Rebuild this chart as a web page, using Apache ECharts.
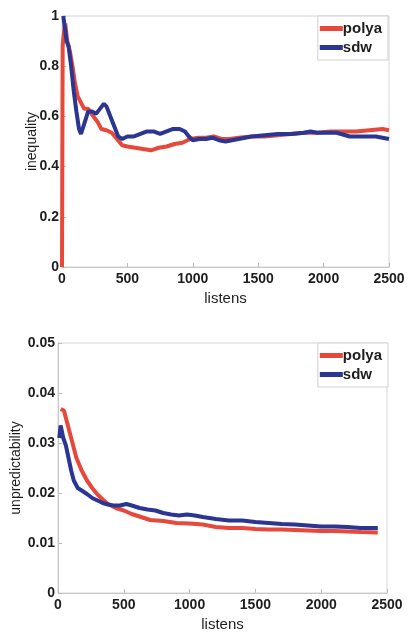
<!DOCTYPE html>
<html>
<head>
<meta charset="utf-8">
<script src="https://cdn.jsdelivr.net/npm/echarts@6/dist/echarts.min.js"></script>
<style>
  html, body { margin: 0; padding: 0; background: #fff; }
  #chart { width: 409px; height: 635px; }
</style>
</head>
<body>
<div id="chart"></div>
<script>
// Upper panel: inequality vs listens
const ineqPolyaX = [0, 5, 12, 25, 40, 60, 80, 100, 120, 140, 170, 200, 240, 270, 300, 340, 380, 420, 460, 500, 560, 620, 680, 740, 800, 860, 920, 980, 1040, 1100, 1160, 1220, 1280, 1350, 1450, 1550, 1650, 1750, 1850, 1950, 2050, 2150, 2250, 2350, 2450, 2500];
const ineqPolyaY = [0, 0.88, 0.92, 0.97, 0.9, 0.86, 0.8, 0.73, 0.68, 0.66, 0.63, 0.63, 0.6, 0.58, 0.55, 0.545, 0.535, 0.51, 0.485, 0.48, 0.475, 0.47, 0.465, 0.475, 0.48, 0.49, 0.495, 0.51, 0.515, 0.515, 0.52, 0.51, 0.51, 0.515, 0.52, 0.52, 0.525, 0.53, 0.535, 0.535, 0.54, 0.54, 0.54, 0.545, 0.55, 0.545];
const ineqSdwX = [10, 20, 35, 50, 70, 90, 110, 130, 145, 170, 200, 230, 260, 290, 320, 340, 370, 400, 430, 460, 500, 550, 600, 650, 700, 750, 800, 850, 900, 940, 970, 1000, 1050, 1100, 1150, 1200, 1250, 1300, 1350, 1450, 1550, 1650, 1750, 1850, 1900, 1950, 2000, 2050, 2100, 2200, 2300, 2400, 2500];
const ineqSdwY = [1.0, 0.96, 0.9, 0.88, 0.8, 0.7, 0.62, 0.55, 0.53, 0.57, 0.62, 0.62, 0.61, 0.63, 0.65, 0.64, 0.6, 0.56, 0.52, 0.51, 0.52, 0.52, 0.53, 0.54, 0.54, 0.53, 0.54, 0.55, 0.55, 0.54, 0.52, 0.505, 0.51, 0.51, 0.515, 0.505, 0.5, 0.505, 0.51, 0.52, 0.525, 0.53, 0.53, 0.535, 0.54, 0.535, 0.535, 0.535, 0.535, 0.52, 0.52, 0.52, 0.51];

// Lower panel: unpredictability vs listens
const unpPolyaX = [20, 45, 70, 100, 140, 180, 220, 260, 300, 340, 380, 440, 500, 560, 620, 700, 800, 900, 1000, 1100, 1200, 1300, 1400, 1500, 1600, 1700, 1800, 1900, 2000, 2100, 2200, 2300, 2430];
const unpPolyaY = [0.0368, 0.0365, 0.034, 0.031, 0.027, 0.0245, 0.0225, 0.021, 0.0197, 0.0187, 0.0178, 0.017, 0.0165, 0.0158, 0.0153, 0.0146, 0.0144, 0.014, 0.0139, 0.0137, 0.0132, 0.013, 0.013, 0.0128, 0.0127, 0.0127, 0.0126, 0.0125, 0.0124, 0.0124, 0.0123, 0.0122, 0.0121];
const unpSdwX = [10, 20, 40, 60, 80, 100, 120, 150, 180, 220, 260, 300, 340, 380, 420, 470, 520, 560, 620, 680, 740, 800, 860, 920, 980, 1040, 1100, 1200, 1300, 1400, 1500, 1600, 1700, 1800, 1900, 2000, 2100, 2200, 2300, 2430];
const unpSdwY = [0.031, 0.0335, 0.031, 0.0295, 0.027, 0.0245, 0.0225, 0.021, 0.0205, 0.0198, 0.019, 0.0185, 0.018, 0.0177, 0.0175, 0.0175, 0.0178, 0.0175, 0.017, 0.0167, 0.0165, 0.016, 0.0157, 0.0155, 0.0157, 0.0155, 0.0152, 0.0148, 0.0145, 0.0145, 0.0142, 0.014, 0.0138, 0.0137, 0.0135, 0.0133, 0.0133, 0.0132, 0.013, 0.013];

// Tick labels
const xTicks = ['0', '500', '1000', '1500', '2000', '2500'];
const ineqTicks = ['0', '0.2', '0.4', '0.6', '0.8', '1'];
const unpTicks = ['0', '0.01', '0.02', '0.03', '0.04', '0.05'];

const RED = '#e6483b';
const BLUE = '#2b3592';
const TEXT = '#1e1e1e';
const FONT = 'Liberation Sans';

const pairs = (xs, ys) => xs.map((x, i) => [x, ys[i]]);

function xAxisFor(gridIndex) {
  return {
    type: 'value', gridIndex, min: 0, max: 2500, interval: 500,
    name: 'listens', nameLocation: 'middle', nameGap: 24, nameMoveOverlap: false,
    nameTextStyle: { color: TEXT, fontFamily: FONT, fontSize: 15 },
    axisLine: { show: true, lineStyle: { color: '#c8c8c8' } },
    axisTick: { show: true, inside: true, length: 4, lineStyle: { color: '#bbb' } },
    splitLine: { show: false },
    axisLabel: {
      color: TEXT, fontFamily: FONT, fontSize: 14, fontWeight: 'bold', margin: 5,
      formatter: v => xTicks[Math.round(v / 500)]
    }
  };
}

function yAxisFor(gridIndex, max, step, ticks, name, gap) {
  return {
    type: 'value', gridIndex, min: 0, max, interval: step,
    name, nameLocation: 'middle', nameGap: gap, nameMoveOverlap: false,
    nameTextStyle: { color: TEXT, fontFamily: FONT, fontSize: 14 },
    axisLine: { show: true, lineStyle: { color: '#c8c8c8' } },
    axisTick: { show: true, inside: true, length: 4, lineStyle: { color: '#bbb' } },
    splitLine: { show: false },
    axisLabel: {
      color: TEXT, fontFamily: FONT, fontSize: 14, fontWeight: 'bold', margin: 3,
      formatter: v => ticks[Math.round(v / step)]
    }
  };
}

function lineSeries(name, color, xi, yi, data) {
  return {
    name, type: 'line', xAxisIndex: xi, yAxisIndex: yi, data,
    showSymbol: false, symbol: 'none',
    lineStyle: { color, width: 4 }, itemStyle: { color },
    animation: false
  };
}

function legendAt(top) {
  return {
    data: ['polya', 'sdw'], orient: 'vertical', right: 21, top,
    icon: 'rect', itemWidth: 23, itemHeight: 5, itemGap: 4,
    padding: [5, 6, 5, 2],
    backgroundColor: '#fff', borderColor: '#d0d0d0', borderWidth: 1,
    textStyle: { color: TEXT, fontFamily: FONT, fontSize: 15, fontWeight: 'bold', padding: [0, 0, 0, -5] }
  };
}

const chart = echarts.init(document.getElementById('chart'), null, { renderer: 'canvas' });
chart.setOption({
  backgroundColor: '#fff',
  animation: false,
  grid: [
    { left: 62, right: 20, top: 16, bottom: 368, show: true, borderColor: '#d4d4d4', borderWidth: 1, outerBoundsMode: 'none' },
    { left: 58, right: 22, top: 343, bottom: 42, show: true, borderColor: '#d4d4d4', borderWidth: 1, outerBoundsMode: 'none' }
  ],
  legend: [legendAt(16), legendAt(343)],
  xAxis: [xAxisFor(0), xAxisFor(1)],
  yAxis: [
    yAxisFor(0, 1, 0.2, ineqTicks, 'inequality', 23),
    yAxisFor(1, 0.05, 0.01, unpTicks, 'unpredictability', 35)
  ],
  series: [
    lineSeries('polya', RED, 0, 0, pairs(ineqPolyaX, ineqPolyaY)),
    lineSeries('sdw', BLUE, 0, 0, pairs(ineqSdwX, ineqSdwY)),
    lineSeries('polya', RED, 1, 1, pairs(unpPolyaX, unpPolyaY)),
    lineSeries('sdw', BLUE, 1, 1, pairs(unpSdwX, unpSdwY))
  ]
});
</script>
</body>
</html>
